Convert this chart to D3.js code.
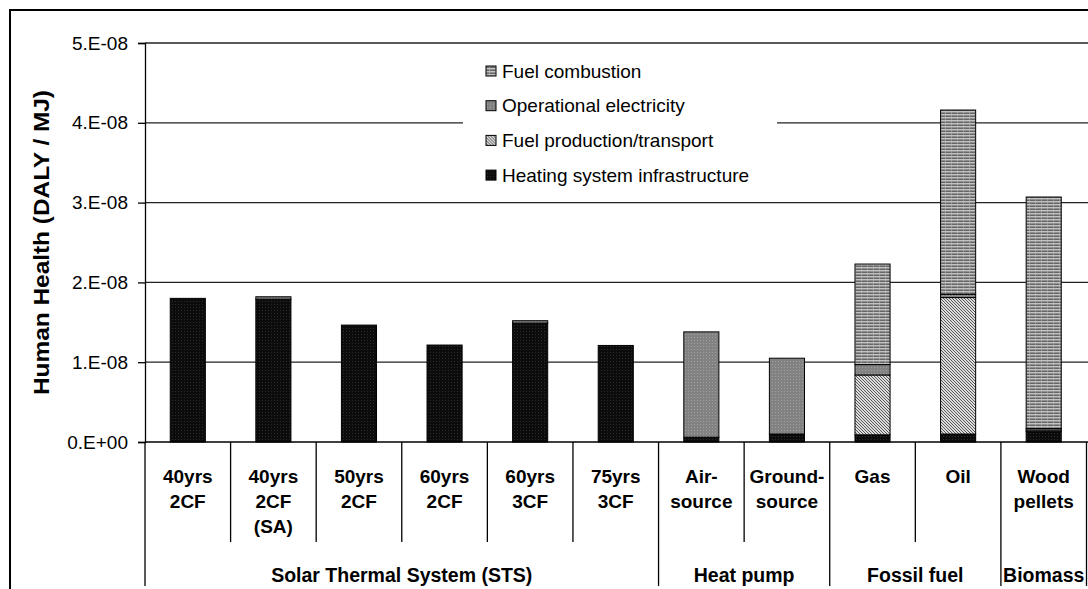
<!DOCTYPE html>
<html>
<head>
<meta charset="utf-8">
<script src="https://cdn.jsdelivr.net/npm/d3@7"></script>
<style>
	body { margin: 0; background: #fff; }
	text { font-family: "Liberation Sans", Arial, sans-serif; fill: #000; }
	.tick text { font-size: 19px; }
	.cat { font-size: 19px; font-weight: bold; }
	.grp { font-size: 19.5px; font-weight: bold; }
	.legendText { font-size: 19px; }
</style>
</head>
<body>
<div id="chart"></div>
<script>
var categories = ['40yrs 2CF', '40yrs 2CF (SA)', '50yrs 2CF', '60yrs 2CF', '60yrs 3CF', '75yrs 3CF', 'Air-source', 'Ground-source', 'Gas', 'Oil', 'Wood pellets'],
	catLines = [['40yrs', '2CF'], ['40yrs', '2CF', '(SA)'], ['50yrs', '2CF'], ['60yrs', '2CF'], ['60yrs', '3CF'], ['75yrs', '3CF'],
		['Air-', 'source'], ['Ground-', 'source'], ['Gas'], ['Oil'], ['Wood', 'pellets']],
	groupNames = ['Solar Thermal System (STS)', 'Heat pump', 'Fossil fuel', 'Biomass'],
	groupSizes = [6, 2, 2, 1],
	// values in 1E-08 DALY/MJ
	infrastructure = [1.80, 1.79, 1.465, 1.215, 1.49, 1.21, 0.06, 0.10, 0.09, 0.10, 0.13],
	fuelProduction = [0, 0, 0, 0, 0, 0, 0, 0, 0.75, 1.71, 0.02],
	operationalElec = [0, 0.03, 0, 0, 0.03, 0, 1.32, 0.95, 0.13, 0.04, 0.02],
	fuelCombustion = [0, 0, 0, 0, 0, 0, 0, 0, 1.26, 2.31, 2.90],
	yTicks = [0, 1e-8, 2e-8, 3e-8, 4e-8, 5e-8],
	seriesKeys = ['infra', 'prod', 'elec', 'comb'],
	legendLabels = ['Fuel combustion', 'Operational electricity', 'Fuel production/transport', 'Heating system infrastructure'],
	legendKeys = ['comb', 'elec', 'prod', 'infra'];

var W = 1088, H = 589,
	plotLeft = 145, plotRight = 1086.5, plotTop = 43, plotBottom = 442;

var svg = d3.select('#chart').append('svg')
	.attr('width', W)
	.attr('height', H);

var defs = svg.append('defs');

// fuel combustion: grey with horizontal stripes
var p = defs.append('pattern').attr('id', 'comb').attr('patternUnits', 'userSpaceOnUse').attr('width', 6).attr('height', 3);
p.append('rect').attr('width', 6).attr('height', 3).attr('fill', '#8f8f8f');
p.append('rect').attr('y', 0).attr('width', 6).attr('height', 1).attr('fill', '#c2c2c2');
p.append('rect').attr('y', 2).attr('width', 6).attr('height', 1).attr('fill', '#666');
p.append('rect').attr('x', 3).attr('width', 1).attr('height', 3).attr('fill', '#bdbdbd').attr('opacity', 0.5);

// operational electricity: medium grey, fine dots
p = defs.append('pattern').attr('id', 'elec').attr('patternUnits', 'userSpaceOnUse').attr('width', 3).attr('height', 3);
p.append('rect').attr('width', 3).attr('height', 3).attr('fill', '#828282');
p.append('rect').attr('x', 1).attr('y', 1).attr('width', 1).attr('height', 1).attr('fill', '#a0a0a0');

// fuel production: fine diagonal hatch
p = defs.append('pattern').attr('id', 'prod').attr('patternUnits', 'userSpaceOnUse').attr('width', 3).attr('height', 3);
p.append('rect').attr('width', 3).attr('height', 3).attr('fill', '#dcdcdc');
p.append('path').attr('d', 'M-1,-1L4,4M-1,2L1,4M2,-1L4,1').attr('stroke', '#4a4a4a').attr('stroke-width', 0.9);

// heating infrastructure: near black
p = defs.append('pattern').attr('id', 'infra').attr('patternUnits', 'userSpaceOnUse').attr('width', 3).attr('height', 3);
p.append('rect').attr('width', 3).attr('height', 3).attr('fill', '#0c0c0c');
p.append('rect').attr('x', 1).attr('y', 1).attr('width', 1).attr('height', 1).attr('fill', '#2c2c2c');

// outer frame
svg.append('rect')
	.attr('x', 10).attr('y', 10)
	.attr('width', 1100).attr('height', 600)
	.attr('fill', 'none')
	.attr('stroke', '#000')
	.attr('stroke-width', 2);

var x = d3.scaleBand()
	.domain(categories)
	.range([plotLeft, plotRight])
	.paddingInner(0)
	.paddingOuter(0);

var y = d3.scaleLinear()
	.domain([0, 5e-8])
	.range([plotBottom, plotTop]);

function sciFormat(v) {
	if (v === 0) return '0.E+00';
	var e = Math.floor(Math.log10(v) + 1e-9);
	var m = Math.round(v / Math.pow(10, e));
	return m + '.E' + (e < 0 ? '-' : '+') + String(Math.abs(e)).padStart(2, '0');
}

// gridlines
svg.selectAll('.grid')
	.data(yTicks.slice(1))
	.enter().append('line')
	.attr('class', 'grid')
	.attr('x1', plotLeft)
	.attr('x2', W)
	.attr('y1', function(d) { return y(d); })
	.attr('y2', function(d) { return y(d); })
	.attr('stroke', '#222')
	.attr('stroke-width', 1.3);

// y axis
var yAxis = svg.append('g')
	.attr('transform', 'translate(' + plotLeft + ',0)')
	.call(d3.axisLeft(y).tickValues(yTicks).tickFormat(sciFormat).tickSizeOuter(0).tickSize(7).tickPadding(10));
yAxis.select('.domain').attr('stroke', '#000').attr('stroke-width', 1.3);
yAxis.selectAll('.tick line').attr('stroke', '#000').attr('stroke-width', 1.3);
yAxis.selectAll('.tick text').attr('fill', '#000').style('font-family', '"Liberation Sans", Arial, sans-serif');

svg.append('text')
	.attr('transform', 'translate(41,' + ((plotTop + plotBottom) / 2) + ') rotate(-90)')
	.attr('text-anchor', 'middle')
	.attr('dy', '0.35em')
	.attr('textLength', 305)
	.attr('lengthAdjust', 'spacingAndGlyphs')
	.style('font-size', '22px')
	.style('font-weight', 'bold')
	.text('Human Health (DALY / MJ)');

// stacked bars
var rows = categories.map(function(c, i) {
	return { cat: c, infra: infrastructure[i] * 1e-8, prod: fuelProduction[i] * 1e-8, elec: operationalElec[i] * 1e-8, comb: fuelCombustion[i] * 1e-8 };
});
var stacked = d3.stack().keys(seriesKeys)(rows);
var barW = x.bandwidth() * 0.41;

var layers = svg.selectAll('.layer')
	.data(stacked)
	.enter().append('g')
	.attr('class', 'layer')
	.attr('fill', function(d) { return 'url(#' + d.key + ')'; });

layers.selectAll('rect')
	.data(function(d) { return d.filter(function(s) { return s[1] - s[0] > 0; }); })
	.enter().append('rect')
	.attr('x', function(d) { return x(d.data.cat) + (x.bandwidth() - barW) / 2; })
	.attr('y', function(d) { return y(d[1]); })
	.attr('width', barW)
	.attr('height', function(d) { return y(d[0]) - y(d[1]); })
	.attr('stroke', '#000')
	.attr('stroke-width', 1);

// x axis line
svg.append('line')
	.attr('x1', plotLeft).attr('x2', W)
	.attr('y1', plotBottom).attr('y2', plotBottom)
	.attr('stroke', '#000').attr('stroke-width', 1.3);

// category dividers
var bounds = categories.map(function(c) { return x(c); }).concat([plotRight]);
var groupBounds = [0];
groupSizes.forEach(function(n, i) { groupBounds.push(groupBounds[i] + n); });

svg.selectAll('.catDiv')
	.data(bounds)
	.enter().append('line')
	.attr('class', 'catDiv')
	.attr('x1', function(d) { return d; })
	.attr('x2', function(d) { return d; })
	.attr('y1', plotBottom)
	.attr('y2', function(d, i) { return groupBounds.indexOf(i) >= 0 ? 586 : 542; })
	.attr('stroke', '#000')
	.attr('stroke-width', 1.3);

// category labels
var catLabel = svg.selectAll('.cat')
	.data(categories)
	.enter().append('text')
	.attr('class', 'cat')
	.attr('text-anchor', 'middle')
	.attr('x', function(d) { return x(d) + x.bandwidth() / 2; })
	.attr('y', 476);
catLabel.selectAll('tspan')
	.data(function(d, i) { return catLines[i]; })
	.enter().append('tspan')
	.attr('x', function() { return d3.select(this.parentNode).attr('x'); })
	.attr('y', function(d, j) { return 476 + j * 25; })
	.attr('dy', '0.35em')
	.text(function(d) { return d; });

// group labels
svg.selectAll('.grp')
	.data(groupNames)
	.enter().append('text')
	.attr('class', 'grp')
	.attr('text-anchor', 'middle')
	.attr('x', function(d, i) { return (bounds[groupBounds[i]] + bounds[groupBounds[i + 1]]) / 2; })
	.attr('y', 575)
	.attr('dy', '0.35em')
	.text(function(d) { return d; });

// legend
var legend = svg.append('g').attr('class', 'legend');
legend.append('rect')
	.attr('x', 463).attr('y', 52)
	.attr('width', 314).attr('height', 142)
	.attr('fill', '#fff');

var item = legend.selectAll('.item')
	.data(legendLabels)
	.enter().append('g')
	.attr('class', 'item')
	.attr('transform', function(d, i) { return 'translate(486,' + (71 + i * 34.7) + ')'; });
item.append('rect')
	.attr('x', 0).attr('y', -5)
	.attr('width', 10).attr('height', 10)
	.attr('fill', function(d, i) { return 'url(#' + legendKeys[i] + ')'; })
	.attr('stroke', '#000')
	.attr('stroke-width', 1);
item.append('text')
	.attr('class', 'legendText')
	.attr('x', 16)
	.attr('dy', '0.35em')
	.text(function(d) { return d; });
</script>
</body>
</html>
